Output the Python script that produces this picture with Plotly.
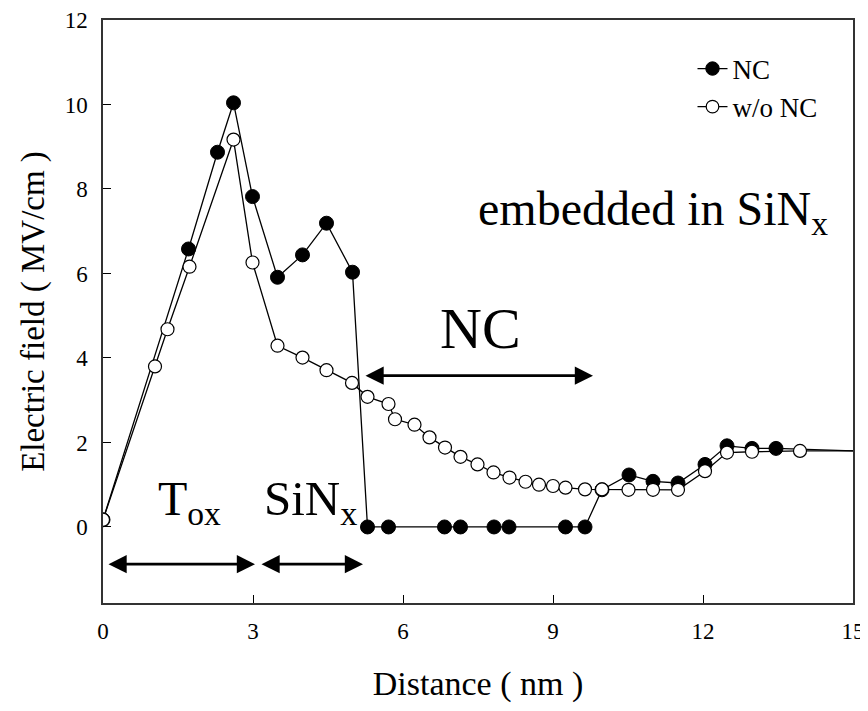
import plotly.graph_objects as go

# Data
nc_x = [0, 1.71, 2.29, 2.61, 2.99, 3.49, 3.99, 4.47, 4.99, 5.29, 5.71, 6.83, 7.15,
        7.82, 8.12, 9.25, 9.64, 9.98, 10.52, 11.0, 11.5, 12.04, 12.48, 12.98, 13.46, 15.0]
nc_y = [0.17, 6.58, 8.87, 10.04, 7.82, 5.91, 6.44, 7.19, 6.03, 0, 0, 0, 0,
        0, 0, 0, 0, 0.88, 1.23, 1.08, 1.04, 1.48, 1.92, 1.86, 1.86, 1.8]

wo_x = [0, 1.04, 1.29, 1.73, 2.61, 2.99, 3.49, 3.99, 4.47, 4.98, 5.29, 5.71, 5.84,
        6.23, 6.53, 6.84, 7.15, 7.49, 7.81, 8.13, 8.45, 8.72, 9.0, 9.25, 9.64, 9.98,
        10.51, 11.0, 11.5, 12.04, 12.48, 12.98, 13.94, 15.0]
wo_y = [0.17, 3.8, 4.68, 6.16, 9.17, 6.26, 4.29, 4.01, 3.71, 3.41, 3.08, 2.91, 2.55,
        2.42, 2.12, 1.88, 1.66, 1.48, 1.29, 1.17, 1.07, 1.0, 0.97, 0.93, 0.89, 0.89,
        0.88, 0.88, 0.88, 1.32, 1.76, 1.78, 1.8, 1.8]

x_ticks = [0, 3, 6, 9, 12, 15]
y_ticks = [0, 2, 4, 6, 8, 10, 12]

FONT = "Liberation Serif"

nc_sizes = [14] * (len(nc_x) - 1) + [0]
wo_sizes = [13] * (len(wo_x) - 1) + [0]

fig = go.Figure()
fig.add_trace(go.Scatter(
    x=nc_x, y=nc_y, mode="lines+markers", name="NC",
    line=dict(color="black", width=1.3),
    marker=dict(symbol="circle", size=nc_sizes, color="#000000", opacity=1,
                line=dict(color="#000000", width=1)),
    opacity=1,
))
fig.add_trace(go.Scatter(
    x=wo_x, y=wo_y, mode="lines+markers", name="w/o NC",
    line=dict(color="black", width=1.3),
    marker=dict(symbol="circle", size=wo_sizes, color="#ffffff", opacity=1,
                line=dict(color="#000000", width=1.2)),
    opacity=1,
))

# double-headed arrows
arrows = [(5.22, 9.8, 3.58), (0.08, 3.04, -0.88), (3.14, 5.2, -0.88)]
for x0, x1, yv in arrows:
    fig.add_annotation(x=x1, y=yv, ax=x0, ay=yv, xref="x", yref="y",
                       axref="x", ayref="y", text="", showarrow=True,
                       arrowhead=2, startarrowhead=2, arrowside="end+start",
                       arrowsize=1.3, startarrowsize=1.3, arrowwidth=2.8,
                       arrowcolor="black")

texts = [
    ("embedded in SiN<sub>x</sub>", 11.0, 7.45, 48),
    ("NC", 7.55, 4.7, 58),
    ("T<sub>ox</sub>", 1.72, 0.6, 48),
    ("SiN<sub>x</sub>", 4.14, 0.6, 49),
]
for t, xv, yv, s in texts:
    fig.add_annotation(x=xv, y=yv, xref="x", yref="y", text=t, showarrow=False,
                       font=dict(family=FONT, size=s, color="black"))

# the page body adds an 8px offset, so the figure is smaller and margins shifted
fig.update_layout(
    width=860, height=695,
    margin=dict(l=95, r=15, t=12, b=100, autoexpand=False),
    paper_bgcolor="white", plot_bgcolor="white",
    font=dict(family=FONT, color="black"),
    showlegend=True,
    legend=dict(x=0.786, y=0.958, xanchor="left", yanchor="top",
                font=dict(family=FONT, size=27, color="black"),
                bgcolor="rgba(0,0,0,0)", tracegroupgap=0),
)
fig.update_xaxes(
    range=[0, 15], tickvals=x_ticks, ticktext=[str(v) for v in x_ticks],
    ticks="inside", ticklen=8, tickcolor="black", showgrid=False, zeroline=False,
    showline=True, linecolor="#333333", linewidth=1.5, mirror=True, automargin=False,
    tickfont=dict(family=FONT, size=23, color="black"), ticklabelstandoff=7,
    title=dict(text="Distance ( nm )", font=dict(family=FONT, size=34, color="black"),
               standoff=38),
)
fig.update_yaxes(
    range=[-1.8, 12], tickvals=y_ticks, ticktext=[str(v) for v in y_ticks],
    ticks="inside", ticklen=8, tickcolor="black", showgrid=False, zeroline=False,
    showline=True, linecolor="#333333", linewidth=1.5, mirror=True, automargin=False,
    tickfont=dict(family=FONT, size=23, color="black"), ticklabelstandoff=9,
    title=dict(text="Electric field ( MV/cm )", font=dict(family=FONT, size=33, color="black"),
               standoff=10),
)

fig.write_html("out.html")
